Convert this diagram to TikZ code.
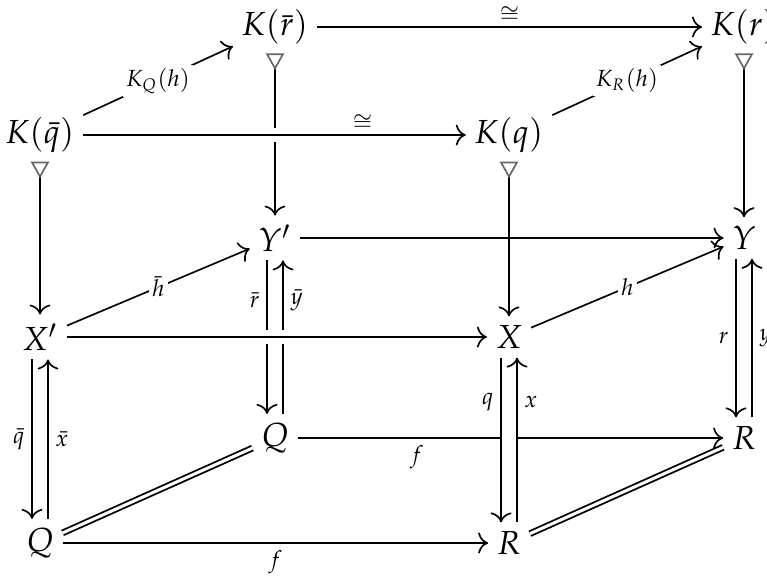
\documentclass[tikz,border=0pt]{standalone}
\usepackage{amsmath}
\usepackage{amssymb}
\usepackage{mathpazo}
\usetikzlibrary{arrows.meta}

\tikzset{
  obj/.style={inner sep=2.5pt},
  map/.style={-{To[length=3pt]}, line width=0.5pt},
  tailmap/.style={{Triangle[open,reversed,length=5pt,width=5.5pt,color=black!60]}-{To[length=3pt]}, line width=0.5pt},
  lab/.style={font=\scriptsize, inner sep=2pt},
  isolab/.style={font=\scriptsize, inner sep=0pt, yshift=3.8pt},
  cutlab/.style={fill=white, inner sep=1pt, font=\scriptsize},
  over/.style={preaction={draw, white, line width=4.3pt, -, shorten <=5pt, shorten >=5pt}},
  eq/.style={double, double distance=0.9pt, line width=0.55pt},
}

\begin{document}
\begin{tikzpicture}[x=0.3pt, y=-0.3pt]

    \useasboundingbox (0,0) rectangle (767,579);

    % Objects, back face
    \node[obj] (Kr1) at (275,27)  {$K(\bar r)$};
    \node[obj] (Kr)  at (744,27)  {$K(r)$};
    \node[obj] (Y1)  at (275,238) {$Y'$};
    \node[obj] (Y)   at (744,238) {$Y$};
    \node[obj] (Q1)  at (275,438) {$Q$};
    \node[obj] (R1)  at (744,438) {$R$};

    % Objects, front face
    \node[obj] (Kq1) at (40,135)  {$K(\bar q)$};
    \node[obj] (Kq)  at (509,135) {$K(q)$};
    \node[obj] (X1)  at (40,337)  {$X'$};
    \node[obj] (X)   at (509,337) {$X$};
    \node[obj] (Q0)  at (40,543)  {$Q$};
    \node[obj] (R0)  at (509,543) {$R$};

    % Back face
    \draw[map] (Kr1) -- (Kr) node[isolab, midway] {$\cong$};
    \draw[tailmap] (Kr1) -- (Y1);
    \draw[tailmap] (Kr) -- (Y);
    \draw[map] (Y1) -- (Y);
    \draw[map] ([xshift=-2.4pt]Y1.south) -- ([xshift=-2.4pt]Q1.north)
        node[lab, pos=0.26, left] {$\bar r$};
    \draw[map] ([xshift=2.4pt]Q1.north) -- ([xshift=2.4pt]Y1.south)
        node[lab, pos=0.74, right] {$\bar y$};
    \draw[map] ([xshift=-2.4pt]Y.south) -- ([xshift=-2.4pt]R1.north)
        node[lab, midway, left] {$r$};
    \draw[map] ([xshift=2.4pt]R1.north) -- ([xshift=2.4pt]Y.south)
        node[lab, midway, right] {$y$};
    \draw[map] (Q1) -- (R1) node[lab, pos=0.28, below] {$f$};

    % Sides
    \draw[map] (Kq1) -- (Kr1) node[cutlab, midway] {$K_Q(h)$};
    \draw[map] (Kq) -- (Kr) node[cutlab, midway] {$K_R(h)$};
    \draw[map] (X1) -- (Y1) node[cutlab, midway] {$\bar h$};
    \draw[map] (X) -- (Y) node[cutlab, midway] {$h$};
    \draw[eq] (Q0) -- (Q1);
    \draw[eq] (R0) -- (R1);

    % Front face
    \draw[map, over] (Kq1) -- (Kq) node[isolab, pos=0.73] {$\cong$};
    \draw[tailmap] (Kq1) -- (X1);
    \draw[tailmap] (Kq) -- (X);
    \draw[map, over] (X1) -- (X);
    \draw[map] ([xshift=-2.4pt]X1.south) -- ([xshift=-2.4pt]Q0.north)
        node[lab, midway, left] {$\bar q$};
    \draw[map] ([xshift=2.4pt]Q0.north) -- ([xshift=2.4pt]X1.south)
        node[lab, midway, right] {$\bar x$};
    \draw[white, line width=4.2pt] (X.south) -- (R0.north);
    \draw[map] ([xshift=-2.4pt]X.south) -- ([xshift=-2.4pt]R0.north)
        node[lab, pos=0.27, left] {$q$};
    \draw[map] ([xshift=2.4pt]R0.north) -- ([xshift=2.4pt]X.south)
        node[lab, pos=0.73, right] {$x$};
    \draw[map] (Q0) -- (R0) node[lab, midway, below] {$f$};

\end{tikzpicture}
\end{document}
